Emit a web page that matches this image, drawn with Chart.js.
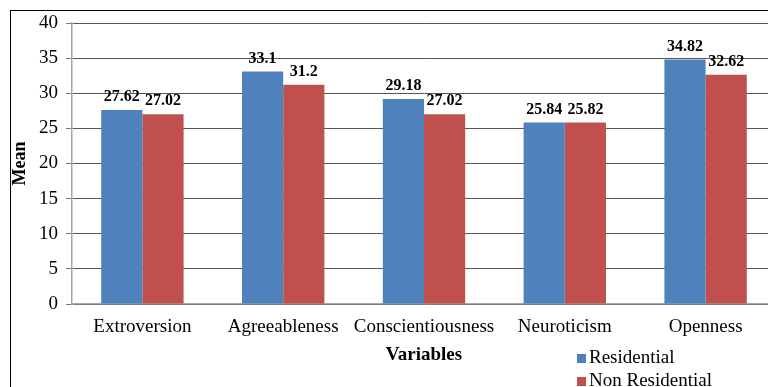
<!DOCTYPE html>
<html>
<head>
<meta charset="utf-8">
<script src="https://cdn.jsdelivr.net/npm/chart.js@4.4.0/dist/chart.umd.min.js"></script>
<style>
  html, body { margin: 0; padding: 0; overflow: hidden; background: #fff; }
  #wrap { position: relative; width: 776px; height: 387px; }
  #frame { position: absolute; left: 10px; top: 10px; width: 800px; height: 420px;
           border: 1px solid #000; pointer-events: none; }
  #legend { position: absolute; left: 577px; top: 345px; font: 19px "Liberation Serif", serif; color: #000; }
  #legend div { height: 23px; line-height: 23px; white-space: nowrap; }
  #legend span { display: inline-block; width: 9px; height: 9px; margin-right: 3px; }
</style>
</head>
<body>
<div id="wrap">
  <canvas id="chart" width="776" height="387"></canvas>
  <div id="frame"></div>
  <div id="legend"></div>
</div>
<script>
var categories = ["Extroversion", "Agreeableness", "Conscientiousness", "Neuroticism", "Openness"];
var residential = [27.62, 33.1, 29.18, 25.84, 34.82];
var nonResidential = [27.02, 31.2, 27.02, 25.82, 32.62];
var seriesNames = ["Residential", "Non Residential"];
var seriesColors = ["#4F81BD", "#C0504D"];

// legend as html, like the excel one under the axis title
var legend = document.getElementById('legend');
seriesNames.forEach(function (name, i) {
    legend.innerHTML += '<div><span style="background:' + seriesColors[i] + '"></span>' + name + '</div>';
});

// value labels above each bar
var barLabels = {
    id: 'barLabels',
    afterDatasetsDraw: function (chart) {
        var ctx = chart.ctx;
        ctx.save();
        ctx.font = 'bold 16px "Liberation Serif", serif';
        ctx.fillStyle = '#000';
        ctx.textAlign = 'center';
        ctx.textBaseline = 'bottom';
        chart.data.datasets.forEach(function (ds, i) {
            chart.getDatasetMeta(i).data.forEach(function (bar, j) {
                ctx.fillText(String(ds.data[j]), bar.x, bar.y - 5);
            });
        });
        ctx.restore();
    }
};

new Chart(document.getElementById('chart'), {
    type: 'bar',
    data: {
        labels: categories,
        datasets: [
            { label: seriesNames[0], data: residential, backgroundColor: seriesColors[0] },
            { label: seriesNames[1], data: nonResidential, backgroundColor: seriesColors[1] }
        ]
    },
    options: {
        responsive: false,
        animation: false,
        layout: { padding: { top: 23, left: 0, right: 0, bottom: 0 } },
        datasets: { bar: { categoryPercentage: 0.585, barPercentage: 1.0 } },
        plugins: { legend: { display: false }, tooltip: { enabled: false } },
        scales: {
            x: {
                grid: { drawOnChartArea: false, drawTicks: false },
                border: { color: '#a6a6a6', width: 1.5 },
                ticks: { color: '#000', padding: 12, maxRotation: 0, minRotation: 0, autoSkip: false,
                         font: { family: 'Liberation Serif', size: 19 } },
                title: { display: true, text: 'Variables', color: '#000',
                         font: { family: 'Liberation Serif', size: 19, weight: 'bold' },
                         padding: { top: 0, bottom: 21 } },
                afterFit: function (scale) { scale.height = 83; }
            },
            y: {
                min: 0, max: 40,
                ticks: { stepSize: 5, color: '#000', padding: 8, font: { family: 'Liberation Serif', size: 19 } },
                grid: { color: '#555', tickLength: 6, tickColor: '#777' },
                border: { color: '#a6a6a6', width: 1.5 },
                title: { display: true, text: 'Mean', color: '#000',
                         font: { family: 'Liberation Serif', size: 18, weight: 'bold' },
                         padding: { top: 10, bottom: 0 } },
                afterFit: function (scale) { scale.width = 72; }
            }
        }
    },
    plugins: [barLabels]
});
</script>
</body>
</html>
